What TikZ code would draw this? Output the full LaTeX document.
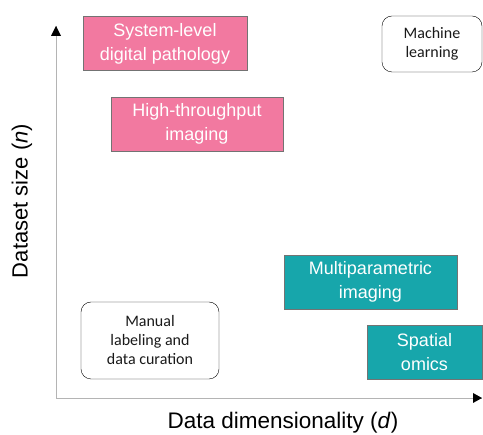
\documentclass[tikz,border=0pt]{standalone}
\usepackage{fontspec}
\setmainfont{Liberation Sans}
\newfontfamily\calib{Carlito}
\usetikzlibrary{arrows.meta}
\definecolor{pinkbox}{HTML}{F279A0}
\definecolor{tealbox}{HTML}{17A6AB}
\definecolor{axisgray}{HTML}{B4B4B4}
\tikzset{pinkfield/.style={draw=black!55,fill=pinkbox,text=white,minimum height=54pt,align=center,font=\fontsize{18}{24}\selectfont},
  tealfield/.style={draw=black!55,fill=tealbox,text=white,minimum height=54pt,align=center,font=\fontsize{18}{24}\selectfont},
  method/.style={draw,rounded corners=10pt,align=center,text=black!90,font=\calib\fontsize{16}{19}\selectfont}}

\begin{document}
\begin{tikzpicture}[x=1pt,y=-1pt,>=Stealth]
  \useasboundingbox (0,0) rectangle (483,435);
  \coordinate (O) at (56,398);
  \coordinate (Y) at (56,26);
  \coordinate (X) at (482,398);

  \node[pinkfield,minimum width=164pt] (S) at (165,43.5) {System-level\\digital pathology};
  \node[pinkfield,minimum width=172pt] (H) at (197,124) {High-throughput\\imaging};
  \node[method,minimum width=100pt,minimum height=56pt] (M) at (432,44) {Machine\\learning};
  \node[tealfield,minimum width=173pt] (P) at (370.5,282) {Multiparametric\\imaging};
  \node[tealfield,minimum width=115pt] (Sp) at (424.5,352) {Spatial\\omics};
  \node[method,minimum width=138pt,minimum height=77pt] (L) at (150,340.5) {Manual\\labeling and\\data curation};

  \draw[axisgray,thick] (O) -- (Y);
  \draw[axisgray,thick] (O) -- (X);
  \fill[black] (Y) -- ++(-5,10) -- ++(10,0) -- cycle;
  \fill[black] (X) -- ++(-9,-5) -- ++(0,10) -- cycle;

  \node[font=\fontsize{22.5}{26}\selectfont] (xl) at (283,423) {Data dimensionality (\textit{d})};
  \node[font=\fontsize{22}{26}\selectfont,rotate=90] (yl) at (22,201) {Dataset size (\textit{n})};
\end{tikzpicture}
\end{document}
